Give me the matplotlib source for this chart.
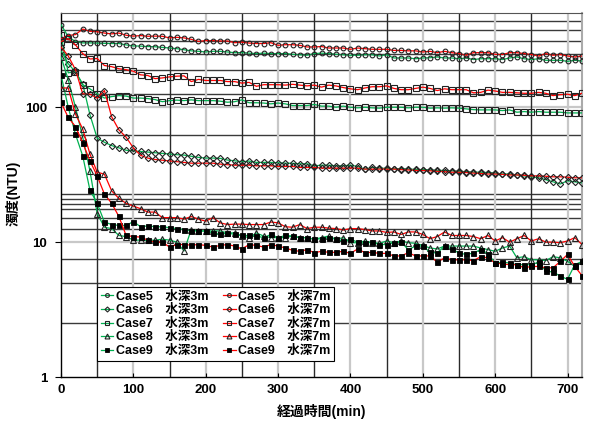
import matplotlib
matplotlib.use('Agg')
import matplotlib.pyplot as plt

plt.rcParams['font.family'] = ['Liberation Sans', 'Noto Sans CJK JP']
plt.rcParams['font.weight'] = 'bold'

t = list(range(0, 730, 10))

c5_3 = [410, 334, 307, 300, 300, 299, 298, 297, 297, 290,
        285, 284, 282, 281, 278, 275, 272, 267, 262, 260,
        257, 260, 260, 257, 254, 254, 252, 250, 252, 250,
        250, 250, 247, 245, 243, 250, 252, 250, 247, 245,
        243, 243, 245, 245, 240, 245, 232, 232, 232, 229,
        232, 233, 236, 232, 232, 229, 232, 226, 229, 229,
        229, 226, 232, 236, 229, 226, 229, 223, 223, 223,
        219, 223, 220]
c5_7 = [323, 340, 346, 380, 366, 363, 355, 350, 355, 342,
        337, 340, 336, 337, 336, 327, 330, 327, 319, 308,
        312, 312, 310, 310, 301, 304, 299, 297, 297, 301,
        288, 291, 291, 288, 280, 280, 282, 275, 275, 275,
        269, 275, 272, 269, 269, 269, 264, 264, 262, 262,
        257, 260, 254, 260, 254, 250, 243, 254, 254, 254,
        247, 246, 254, 254, 250, 246, 240, 250, 243, 246,
        240, 236, 240]
c6_3 = [263, 210, 183, 149, 88, 59, 55, 52, 50, 48,
        47.5, 47, 46.5, 46, 45.5, 45, 44.5, 44.2, 43.3, 42.5,
        42, 42, 41.8, 40.6, 40.1, 39.4, 39.9, 39, 39, 39,
        38.8, 38.5, 38.4, 38.1, 38.1, 36.8, 37.2, 37.2, 36.8, 36.8,
        37.2, 36.4, 34.8, 35.8, 35.4, 35.2, 35, 35, 34.8, 34.6,
        34.5, 34.3, 34, 34, 33.8, 33.5, 33.3, 33, 33, 32.8,
        32.5, 32, 32, 31.5, 31, 30.5, 30, 29, 28, 27,
        28.5, 28, 27.5]
c6_7 = [280, 240, 190, 126, 125, 117, 133, 85, 68, 60,
        50, 44, 42, 41, 40.5, 40, 39.5, 39, 38.5, 38.5,
        38.5, 38.5, 37.9, 37.5, 37.2, 37.2, 37.2, 36.8, 36.8, 36.8,
        36.4, 36.4, 36.4, 35.8, 35.8, 35.8, 35.4, 35.4, 35.4, 35.4,
        35.4, 35.4, 34.8, 34.8, 34.8, 34.8, 34.8, 34.5, 34.3, 34,
        34, 33.8, 33.5, 33.3, 33, 33, 32.8, 32.5, 32.3, 32,
        32, 31.8, 31.5, 31.5, 31.3, 31, 31, 30.8, 30.5, 30.5,
        30.3, 30, 30]
c7_3 = [346, 180, 184, 147, 137, 126, 117, 120, 122, 121,
        117, 117, 116, 114, 110, 112, 113, 112, 113.5, 112,
        112, 112, 111, 109, 110, 113.5, 108, 108, 107.5, 106,
        107.5, 106, 103, 103, 103, 105, 102, 102, 100, 102,
        100, 99, 100, 99, 98.5, 100, 100, 100, 99, 100,
        100, 98.5, 99, 98.5, 99, 98.5, 97.3, 96, 95.6, 95.6,
        95.6, 94.5, 95.6, 91.9, 92.9, 91.9, 92.9, 91.9, 91.9, 91.9,
        90.8, 90.8, 90.8]
c7_7 = [307, 323, 290, 250, 228, 230, 204, 200, 193, 190,
        185, 174, 172, 163, 165, 168, 170, 171, 155, 161,
        158, 158, 158, 155, 155, 151, 153, 143, 147, 147,
        147, 146, 148, 146, 144, 146, 141, 146, 144, 140,
        137, 135, 139, 142, 142, 144, 138, 135, 135, 138,
        141, 138, 133, 137, 135, 135, 135, 128, 129, 134,
        132, 129, 129, 128, 127, 127, 129, 127, 122, 124,
        125, 122, 127]
c8_3 = [237, 160, 100, 60, 33.8, 16.3, 12.9, 12.6, 11.2, 11.0,
        10.35, 10.35, 10.3, 10.35, 10.5, 10.35, 10.0, 8.6, 12.4, 12.1,
        12.1, 12.1, 12.1, 11.7, 11.7, 11.1, 10.8, 11.7, 11.1, 10.8,
        10.8, 10.8, 11.1, 10.8, 10.8, 10.5, 10.8, 11.1, 10.5, 10.8,
        9.9, 9.9, 10.2, 9.9, 9.8, 10.2, 9.9, 10.2, 9.9, 9.8,
        9.45, 9.05, 8.9, 9.35, 9.35, 9.35, 9.35, 9.35, 9.05, 8.8,
        8.55, 9.05, 9.35, 7.65, 7.8, 7.4, 7.4, 7.3, 7.8, 7.65,
        7.2, 6.6, 7.2]
c8_7 = [139, 139, 89, 69, 45, 33, 31.9, 24, 21.1, 19.4,
        18.5, 17.7, 16.7, 16.7, 15.2, 15.2, 15.2, 14.8, 15.5, 14.8,
        14.3, 15.2, 13.9, 13.5, 13.6, 13.6, 13.5, 13.5, 13.5, 14.1,
        13.9, 13.0, 12.9, 13.5, 12.6, 12.9, 12.9, 12.7, 12.6, 12.3,
        12.6, 12.6, 12.4, 12.1, 12.1, 11.8, 11.9, 11.4, 11.9, 11.9,
        11.4, 10.6, 11.0, 11.9, 11.2, 11.2, 11.2, 11.0, 10.6, 11.2,
        10.2, 10.8, 10.0, 10.6, 11.2, 10.2, 10.6, 10.0, 10.0, 9.9,
        10.2, 10.8, 9.6]
c9_3 = [174, 100, 63, 43.6, 24.3, 19.4, 14.1, 13.5, 13.3, 13.3,
        14.2, 13.0, 13.2, 13.0, 13.0, 12.8, 12.6, 12.4, 12.1, 12.1,
        12.1, 11.7, 11.4, 11.7, 11.4, 11.2, 11.2, 11.1, 10.8, 11.4,
        10.8, 11.2, 11.1, 10.8, 10.8, 10.5, 10.6, 10.8, 10.5, 10.2,
        10.5, 10.0, 9.8, 10.0, 9.6, 9.6, 9.9, 10.0, 8.8, 9.35,
        9.35, 8.4, 8.3, 9.35, 8.9, 8.3, 8.1, 8.3, 8.8, 8.2,
        7.0, 7.1, 7.0, 6.8, 6.8, 6.8, 7.1, 6.1, 6.0, 5.6,
        5.3, 6.8, 7.2]
c9_7 = [109, 84, 72, 54.5, 40, 31, 22.7, 19.4, 15.5, 11.2,
        11.0, 10.9, 10.35, 10.0, 10.0, 9.2, 9.6, 9.6, 9.5, 9.6,
        9.45, 9.2, 9.45, 9.6, 9.35, 8.9, 9.6, 9.45, 9.2, 9.6,
        9.35, 9.05, 8.7, 8.55, 8.8, 8.35, 8.55, 8.4, 8.4, 8.55,
        8.25, 8.9, 8.35, 8.4, 8.25, 8.25, 7.9, 7.9, 8.35, 7.9,
        7.9, 7.9, 7.1, 7.65, 7.4, 7.4, 7.4, 7.3, 7.8, 7.65,
        7.0, 6.9, 6.8, 6.8, 6.45, 6.6, 6.6, 6.45, 6.45, 7.2,
        8.1, 6.6, 5.65]

labels_3m = ['Case5\u3000水深3m', 'Case6\u3000水深3m', 'Case7\u3000水深3m',
             'Case8\u3000水深3m', 'Case9\u3000水深3m']
labels_7m = ['Case5\u3000水深7m', 'Case6\u3000水深7m', 'Case7\u3000水深7m',
             'Case8\u3000水深7m', 'Case9\u3000水深7m']
series_3m = [c5_3, c6_3, c7_3, c8_3, c9_3]
series_7m = [c5_7, c6_7, c7_7, c8_7, c9_7]

x_ticks = [0, 100, 200, 300, 400, 500, 600, 700]
y_ticks = [1, 10, 100]
h_minor = [2.5, 5, 7.5, 12.6, 15.2, 17.5, 19.1, 20.8, 22.7, 62.5,
           125, 187.5, 250, 312.5, 375, 437.5]
v_minor = [50, 150, 250, 350, 450, 550, 650]

markers = [dict(marker='o', ms=3.4, mfc='none', mec='#222222', mew=0.8),
           dict(marker='D', ms=3.2, mfc='none', mec='#222222', mew=0.8),
           dict(marker='s', ms=4.4, mfc='none', mec='#222222', mew=0.8),
           dict(marker='^', ms=4.4, mfc='none', mec='#222222', mew=0.8),
           dict(marker='s', ms=3.6, mfc='black', mec='black', mew=0.6)]

GREEN = '#00b050'
RED = '#ff0000'

fig = plt.figure(figsize=(5.89, 4.22), dpi=100)
ax = fig.add_axes([61/589, 45/422, 521/589, 364/422])
ax.set_yscale('log')
ax.set_xlim(0, 720)
ax.set_ylim(1, 500)

for v in h_minor:
    ax.axhline(v, color='#3a3a3a', lw=1.0, zorder=1)
for v in y_ticks[1:]:
    ax.axhline(v, color='#c8c8c8', lw=1.6, zorder=1)
for v in v_minor:
    ax.axvline(v, color='#2a2a2a', lw=1.0, zorder=1)
for v in x_ticks[1:]:
    ax.axvline(v, color='#c8c8c8', lw=1.6, zorder=1)

handles_3m, handles_7m = [], []
for s, m in zip(series_3m, markers):
    h, = ax.plot(t, s, color=GREEN, lw=0.9, zorder=3, **m)
    handles_3m.append(h)
for s, m in zip(series_7m, markers):
    h, = ax.plot(t, s, color=RED, lw=0.9, zorder=3, **m)
    handles_7m.append(h)

ax.set_xticks(x_ticks)
ax.set_xticklabels([str(v) for v in x_ticks])
ax.set_yticks(y_ticks)
ax.set_yticklabels([str(v) for v in y_ticks])
ax.yaxis.set_minor_locator(matplotlib.ticker.NullLocator())
ax.tick_params(axis='x', direction='in', length=3, pad=5, labelsize=9.5)
ax.tick_params(axis='y', direction='out', length=4, pad=6, labelsize=9.5)
for lab in ax.get_xticklabels() + ax.get_yticklabels():
    lab.set_fontweight('bold')

for side in ['left', 'bottom']:
    ax.spines[side].set_color('black')
    ax.spines[side].set_linewidth(1.0)
ax.spines['top'].set_color('#555555')
ax.spines['right'].set_color('#aaaaaa')
ax.spines['right'].set_linewidth(1.5)

ax.set_xlabel('経過時間(min)', fontsize=10, fontweight='bold', labelpad=6)
ax.set_ylabel('濁度(NTU)', fontsize=10, fontweight='bold')
ax.yaxis.set_label_coords(-0.077, 0.505)

leg = ax.legend(handles_3m + handles_7m, labels_3m + labels_7m, ncol=2,
                loc='upper left', bbox_to_anchor=(0.069, 0.247),
                borderaxespad=0, fontsize=9, frameon=True, fancybox=False,
                handlelength=1.0, handletextpad=0.2, labelspacing=0.12,
                columnspacing=1.2, borderpad=0.3, markerscale=0.8)
leg.get_frame().set_edgecolor('black')
leg.get_frame().set_linewidth(0.8)
leg.get_frame().set_alpha(1)
leg.set_zorder(5)
for txt in leg.get_texts():
    txt.set_fontweight('bold')

fig.savefig('out.png', dpi=100)
